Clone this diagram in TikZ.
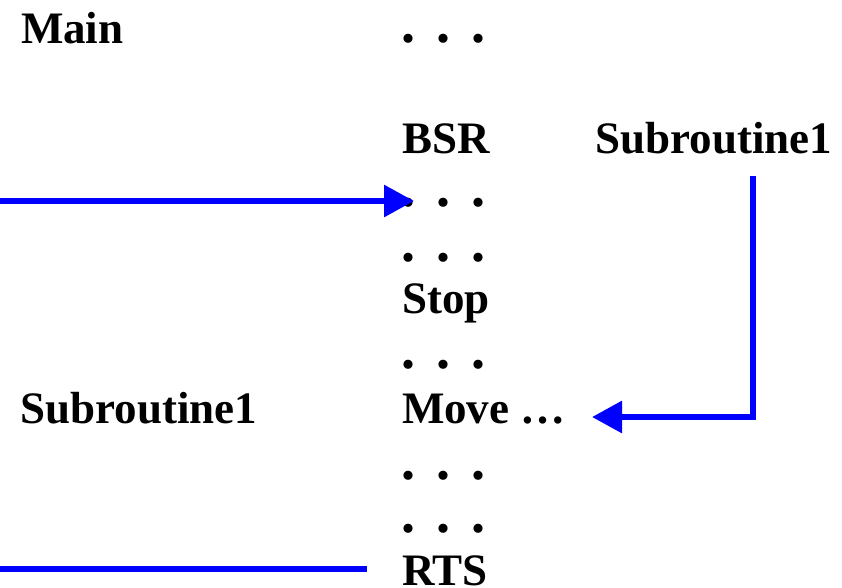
\documentclass[tikz,border=0pt]{standalone}
\usepackage{fontspec}
\setmainfont{Liberation Serif}
\usetikzlibrary{arrows.meta}
\definecolor{linkblue}{RGB}{0,0,255}
% three spaced periods used as an elision row
\newcommand{\elide}{{\fontsize{56}{60}\selectfont .\hspace{21pt}.\hspace{21pt}.}}
\tikzset{
  code/.style={anchor=base west, inner sep=0pt, outer sep=0pt,
    font=\fontsize{45}{54}\selectfont\bfseries},
  flow/.style={draw=linkblue, line width=6pt, line cap=butt, line join=miter},
  flowtip/.style={-{Triangle[length=30pt, width=31pt]}},
}
\begin{document}
\begin{tikzpicture}[x=1pt, y=-1pt]
  \useasboundingbox (0,0) rectangle (842,587);

  % left column labels
  \node[code] (main) at (21,43) {Main};
  \node[code] (subleft) at (20.5,423) {Subroutine1};

  % middle column: program listing
  \node[code] (d0) at (401,42) {\elide};
  \node[code] (bsr) at (402,153) {BSR};
  \node[code] (d1) at (401,206) {\elide};
  \node[code] (d2) at (401,261) {\elide};
  \node[code] (stop) at (402,313) {Stop};
  \node[code] (d3) at (401,368) {\elide};
  \node[code] (move) at (402,423) {Move …};
  \node[code] (d4) at (401,479) {\elide};
  \node[code] (d5) at (401,532) {\elide};
  \node[code] (rts) at (402,585) {RTS};

  % right column label
  \node[code] (subright) at (595.5,153) {Subroutine1};

  % connector end points
  \coordinate (callsrc) at (0,201);
  \coordinate (calldst) at (414,201);
  \coordinate (jumptop) at (753,176);
  \coordinate (jumpbend) at (753,417);
  \coordinate (jumpdst) at (592,417);
  \coordinate (retsrc) at (0,569);
  \coordinate (retdst) at (367,569);

  % return into the caller
  \draw[flow, flowtip] (callsrc) -- (calldst);
  % call into the subroutine body
  \draw[flow, flowtip] (jumptop) -- (jumpbend) -- (jumpdst);
  % line leaving the RTS row
  \draw[flow] (retsrc) -- (retdst);
\end{tikzpicture}
\end{document}
